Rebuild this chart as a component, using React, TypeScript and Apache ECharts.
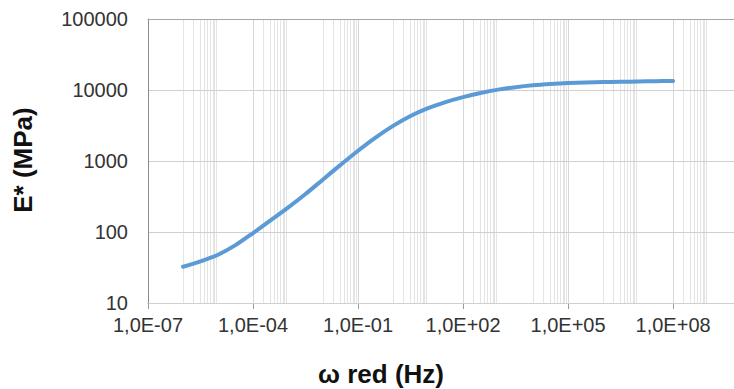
import React, { useEffect, useRef } from "react";
import * as echarts from "echarts";

// Reduced angular frequency (Hz) and dynamic modulus E* (MPa)
const omega = [
  1e-6, 3.16e-6, 1e-5, 3.16e-5, 1e-4, 3.16e-4, 1e-3, 3.16e-3, 1e-2, 3.16e-2,
  0.1, 0.316, 1, 3.16, 10, 31.6, 100, 316, 1000, 3160,
  1e4, 3.16e4, 1e5, 3.16e5, 1e6, 3.16e6, 1e7, 3.16e7, 1e8,
];
const eStar = [
  32.4, 38.5, 47.9, 65.3, 96.6, 146, 221, 343, 550, 881,
  1396, 2138, 3126, 4315, 5559, 6761, 7943, 9078, 10116, 10965,
  11641, 12134, 12503, 12735, 12912, 13047, 13168, 13305, 13428,
];

// x axis in decades (log10 of ω)
const xMinDecade = -7;
const xMaxDecade = 9.74;
const xMajorStep = 3;
// decades that carry the light minor grid lines (Excel style)
const minorDecades = [-6, -4, -2, 0, 2, 4, 6, 8];
const minorMultipliers = [1, 2, 3, 4, 5, 6, 7, 8, 9];

const yMin = 10;
const yMax = 100000;

const xTitle = "ω red (Hz)";
const yTitle = "E* (MPa)";

const FONT = "'Liberation Sans', Arial, sans-serif";

function sciLabel(v: number): string {
  const r = Math.round(v);
  if (Math.abs(v - r) > 1e-6) return "";
  if (((r - xMinDecade) % xMajorStep + xMajorStep) % xMajorStep !== 0) return "";
  const sign = r < 0 ? "-" : "+";
  const a = Math.abs(r);
  return "1,0E" + sign + (a < 10 ? "0" + a : String(a));
}

export default function App() {
  const ref = useRef<HTMLDivElement>(null);
  useEffect(() => {
    if (!ref.current) return;
    const chart = echarts.init(ref.current, undefined, { renderer: "svg" });
    const majorDecades: number[] = [];
    for (let d = xMinDecade; d <= xMaxDecade; d += xMajorStep) majorDecades.push(d);
    const minorLines: number[] = [];
    minorDecades.forEach((d) => {
      minorMultipliers.forEach((k) => {
        const v = Math.log10(k) + d;
        if (majorDecades.some((m) => Math.abs(m - v) < 1e-9)) return;
        minorLines.push(v);
      });
    });
    const data = omega.map((w, i) => [Math.log10(w), eStar[i]]);
    chart.setOption({
      animation: false,
      backgroundColor: "#ffffff",
      grid: { left: 148, top: 19, right: 0, bottom: 86, containLabel: false },
      xAxis: [
        {
          type: "value",
          min: xMinDecade,
          max: xMaxDecade,
          interval: xMajorStep,
          axisLine: { show: true, onZero: false, lineStyle: { color: "#9a9a9a", width: 1 } },
          axisTick: { show: true, length: 6, lineStyle: { color: "#9a9a9a" } },
          axisLabel: {
            show: true,
            margin: 12,
            color: "#333333",
            fontSize: 20,
            fontFamily: FONT,
            formatter: (v: number) => sciLabel(v),
            showMaxLabel: false,
          },
          splitLine: { show: true, lineStyle: { color: "#d6d6d6", width: 1 } },
        },
        {
          type: "value",
          position: "top",
          min: xMinDecade,
          max: xMaxDecade,
          z: 3,
          axisLine: { show: true, onZero: false, lineStyle: { color: "#a6a6a6", width: 1 } },
          axisTick: { show: false },
          axisLabel: { show: false },
          splitLine: { show: false },
        },
      ],
      yAxis: {
        type: "log",
        logBase: 10,
        min: yMin,
        max: yMax,
        z: 3,
        axisLine: { show: true, onZero: false, lineStyle: { color: "#8c8c8c", width: 1 } },
        axisTick: { show: false },
        axisLabel: {
          margin: 20,
          color: "#333333",
          fontSize: 20,
          fontFamily: FONT,
          formatter: (v: number) => String(Math.round(v)),
        },
        splitLine: { show: true, lineStyle: { color: "#d0d0d0", width: 1 } },
      },
      series: [
        {
          type: "line",
          data: [],
          silent: true,
          z: 1,
          markLine: {
            silent: true,
            z: 1,
            symbol: ["none", "none"],
            label: { show: false },
            lineStyle: { color: "#e4e4e4", type: "solid", width: 1 },
            emphasis: { disabled: true },
            data: minorLines.map((v) => ({ xAxis: v })),
          },
        },
        {
          type: "line",
          data,
          z: 10,
          smooth: 0.3,
          showSymbol: false,
          symbol: "none",
          lineStyle: { color: "#5b9bd5", width: 4, cap: "round", join: "round" },
        },
      ],
      graphic: [
        {
          type: "text",
          x: 381,
          y: 374,
          style: {
            text: xTitle,
            fill: "#111111",
            font: "bold 26px " + FONT,
            textAlign: "center",
            textVerticalAlign: "middle",
          },
        },
        {
          type: "text",
          x: 23,
          y: 160,
          rotation: Math.PI / 2,
          style: {
            text: yTitle,
            fill: "#111111",
            font: "bold 26px " + FONT,
            textAlign: "center",
            textVerticalAlign: "middle",
          },
        },
      ],
    });
    return () => chart.dispose();
  }, []);
  return (
    <div
      ref={ref}
      style={{ position: "absolute", left: 0, top: 0, width: 734, height: 389 }}
    />
  );
}
